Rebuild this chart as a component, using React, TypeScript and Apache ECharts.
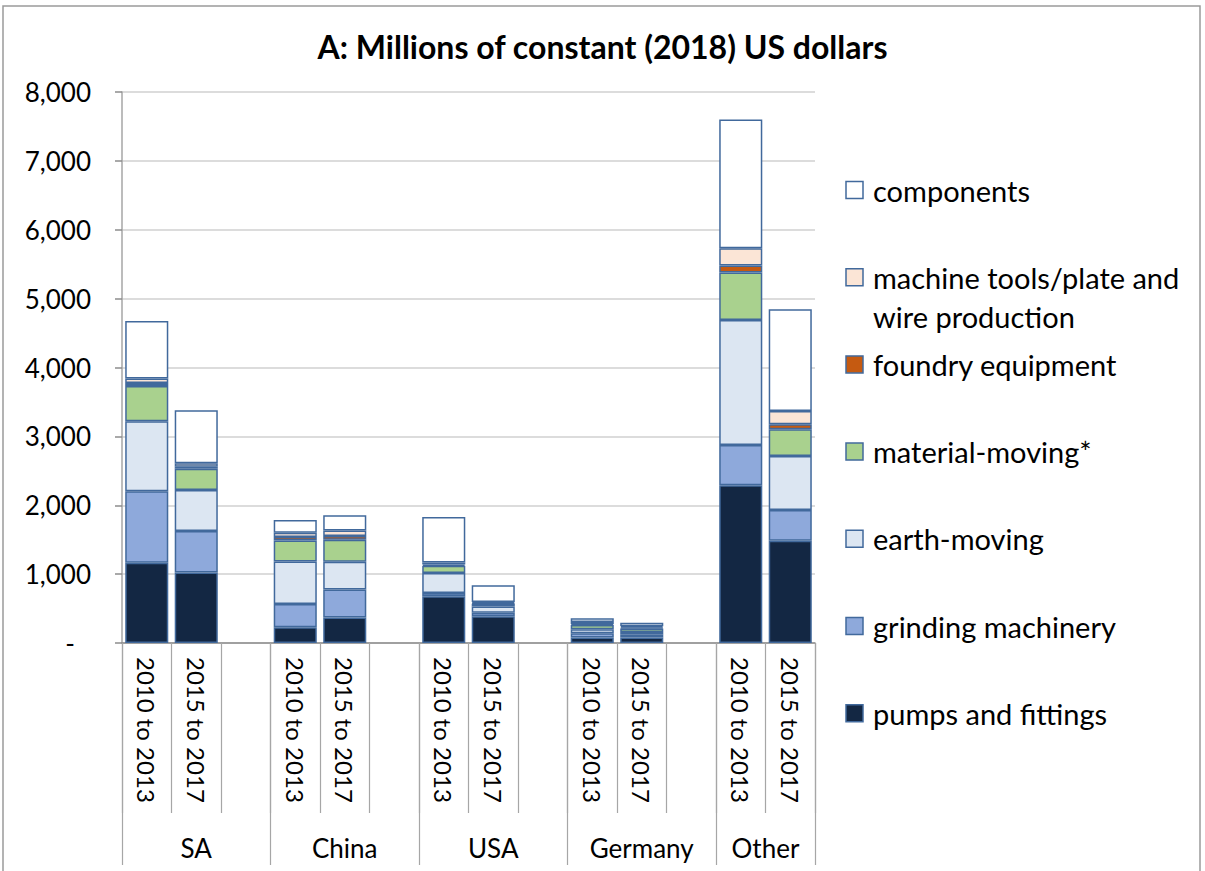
import React, { useEffect, useRef } from "react";
import * as echarts from "echarts";

const categories = [
  "2010 to 2013", "2015 to 2017", "",
  "2010 to 2013", "2015 to 2017", "",
  "2010 to 2013", "2015 to 2017", "",
  "2010 to 2013", "2015 to 2017", "",
  "2010 to 2013", "2015 to 2017",
];
const groups = ["SA", "China", "USA", "Germany", "Other"];
// group label positions on a half-slot axis (29 boundaries)
const groupLabelIndex = [3, 9, 15, 21, 26];
const groupBoundaryIndex = [0, 6, 12, 18, 24, 28];

const pumps = [1165, 1025, null, 230, 370, null, 680, 390, null, 80, 80, null, 2290, 1485];
const grinding = [1040, 600, null, 335, 405, null, 45, 50, null, 60, 40, null, 585, 445];
const earthMoving = [1015, 595, null, 620, 405, null, 290, 90, null, 60, 40, null, 1815, 785];
const materialMoving = [510, 310, null, 305, 320, null, 105, 40, null, 60, 50, null, 690, 390];
const foundry = [45, 30, null, 50, 55, null, 20, 10, null, 15, 15, null, 100, 70];
const machineTools = [65, 50, null, 60, 80, null, 30, 15, null, 30, 20, null, 250, 195];
const components = [835, 770, null, 185, 220, null, 660, 245, null, 55, 50, null, 1870, 1475];

const seriesNames = [
  "pumps and fittings",
  "grinding machinery",
  "earth-moving",
  "material-moving*",
  "foundry equipment",
  "machine tools/plate and wire production",
  "components",
];
const seriesData = [pumps, grinding, earthMoving, materialMoving, foundry, machineTools, components];
const seriesColors = ["#132743", "#8EA9DB", "#DCE6F2", "#A9D18E", "#C55A11", "#FBE5D6", "#FFFFFF"];
const legendLabels = [
  "components",
  "machine tools/plate and\nwire production",
  "foundry equipment",
  "material-moving*",
  "earth-moving",
  "grinding machinery",
  "pumps and fittings",
];

const yTicks = { min: 0, max: 8000, interval: 1000 };

const FONT = "Lato, 'Open Sans', sans-serif";
const BORDER = "#41699C";

export default function App() {
  const ref = useRef<HTMLDivElement>(null);
  useEffect(() => {
    if (!ref.current) return;
    const chart = echarts.init(ref.current, null, { renderer: "svg" });
    const halfSlots = Array.from({ length: 29 }, (_, k) => {
      const gi = groupLabelIndex.indexOf(k);
      return gi >= 0 ? groups[gi] : "h" + k;
    });
    const legendColorsTopDown = [...seriesColors].reverse();
    const legendGraphics: any[] = legendLabels.map((lab, i) => ({
      type: "group",
      x: 846,
      y: 190 + 87.2 * i,
      children: [
        {
          type: "rect",
          shape: { x: 0, y: -8.5, width: 17, height: 17 },
          style: { fill: legendColorsTopDown[i], stroke: BORDER, lineWidth: 1.5 },
        },
        {
          type: "text",
          x: 27,
          y: -19.5,
          style: {
            text: lab,
            font: `29px ${FONT}`,
            fill: "#000",
            verticalAlign: "top",
            lineHeight: 39,
          },
        },
      ],
    }));
    const option: any = {
      animation: false,
      backgroundColor: "#fff",
      title: {
        text: "A: Millions of constant (2018) US dollars",
        left: "center",
        top: 25,
        textStyle: { fontFamily: FONT, fontSize: 32, fontWeight: "bold", color: "#000" },
      },
      grid: { left: 122, right: 390, top: 92, bottom: 228, containLabel: false },
      xAxis: [
        {
          type: "category",
          data: categories,
          position: "bottom",
          axisLine: { show: true, lineStyle: { color: "#8C8C8C", width: 1.5 } },
          axisTick: { show: true, interval: 0, length: 170, lineStyle: { color: "#A6A6A6", width: 1.2 } },
          axisLabel: {
            interval: 0,
            rotate: -90,
            margin: 14,
            fontFamily: FONT,
            fontSize: 24,
            color: "#000",
          },
          splitLine: { show: false },
        },
        {
          type: "category",
          data: halfSlots,
          position: "bottom",
          boundaryGap: false,
          axisLine: { show: false },
          axisTick: {
            show: true,
            length: 222,
            interval: (idx: number) => groupBoundaryIndex.indexOf(idx) >= 0,
            lineStyle: { color: "#A6A6A6", width: 1.2 },
          },
          axisLabel: {
            interval: (idx: number) => groupLabelIndex.indexOf(idx) >= 0,
            formatter: (v: string) => (groups.indexOf(v) >= 0 ? v : ""),
            margin: 192,
            fontFamily: FONT,
            fontSize: 26,
            color: "#000",
          },
          splitLine: { show: false },
        },
      ],
      yAxis: {
        type: "value",
        min: yTicks.min,
        max: yTicks.max,
        interval: yTicks.interval,
        axisLine: { show: true, lineStyle: { color: "#A6A6A6", width: 1.5 } },
        axisTick: { show: true, length: 7, lineStyle: { color: "#8C8C8C", width: 1.5 } },
        axisLabel: {
          margin: 31,
          fontFamily: FONT,
          fontSize: 26,
          color: "#000",
          formatter: (v: number) => (v === 0 ? "{d|-}" : v.toLocaleString("en-US")),
          rich: { d: { fontFamily: FONT, fontSize: 26, color: "#000", padding: [0, 16, 0, 0] } },
        },
        splitLine: { show: true, lineStyle: { color: "#D0D0D0", width: 1.5 } },
      },
      series: seriesNames.map((name, i) => ({
        name,
        type: "bar",
        stack: "total",
        xAxisIndex: 0,
        barCategoryGap: "13%",
        data: seriesData[i],
        itemStyle: { color: seriesColors[i], borderColor: BORDER, borderWidth: 1.5 },
      })),
      graphic: [
        {
          type: "rect",
          shape: { x: 3, y: 6, width: 1197, height: 880 },
          style: { fill: "none", stroke: "#9A9A9A", lineWidth: 1.5 },
          silent: true,
        },
        ...legendGraphics,
      ],
    };
    chart.setOption(option);
    return () => chart.dispose();
  }, []);
  return (
    <div
      ref={ref}
      style={{ position: "fixed", left: 0, top: 0, width: 1205, height: 871, background: "#fff" }}
    />
  );
}
